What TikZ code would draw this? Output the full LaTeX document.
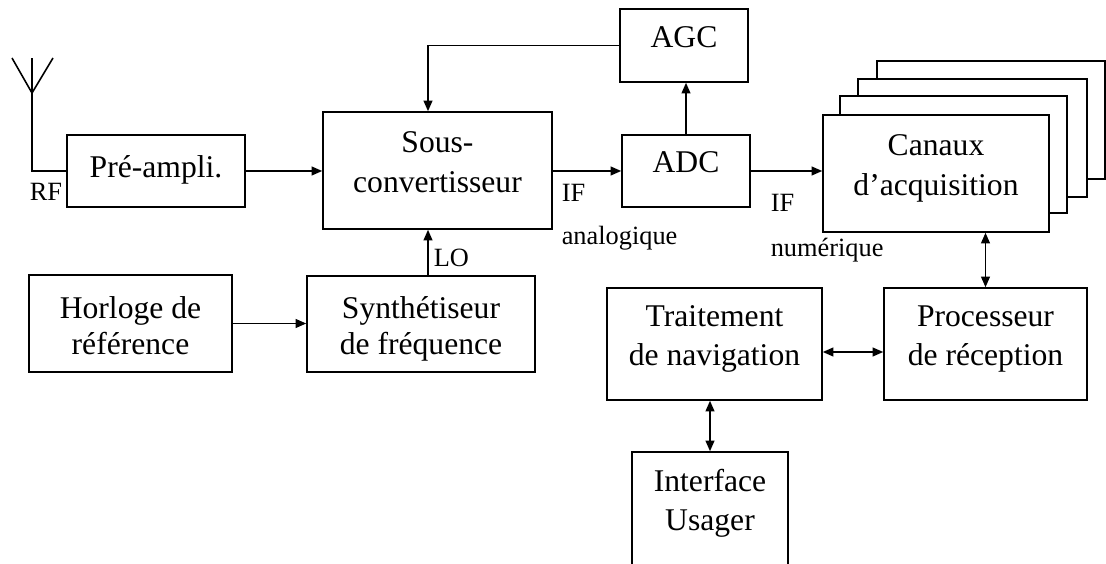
\documentclass[tikz,border=0pt]{standalone}
\usepackage{fontspec}
\setmainfont{Liberation Serif}
\usetikzlibrary{calc,arrows.meta}
\newcommand{\blk}[2][0.12cm]{\raisebox{#1}[\height][\depth]{\begin{tabular}{@{}c@{}}#2\end{tabular}}}

\begin{document}
\begin{tikzpicture}[x=0.02cm,y=-0.02cm,line width=0.9pt,
  bloc/.style={draw,fill=white,inner sep=0pt,font=\fontsize{18}{22.5}\selectfont},
  lab/.style={inner sep=0pt,font=\fontsize{15}{18}\selectfont},
  fl/.style={-{Triangle[length=6pt,width=5pt]}},
  dfl/.style={{Triangle[length=6pt,width=5pt]}-{Triangle[length=6pt,width=5pt]}}]
\useasboundingbox (0,0) rectangle (1106,564);
% chaine RF
\node[bloc,minimum width=3.56cm,minimum height=1.44cm](pre) at (156,171){\blk[0.03cm]{Pré-ampli.}};
\node[bloc,minimum width=4.58cm,minimum height=2.34cm](sous) at (437.5,170.5){\blk{Sous-\\convertisseur}};
\node[bloc,minimum width=2.56cm,minimum height=1.46cm](agc) at (684,45.5){\blk{AGC}};
\node[bloc,minimum width=2.56cm,minimum height=1.44cm](adc) at (686,171){\blk{ADC}};
% canaux empiles
\node[bloc,minimum width=4.56cm,minimum height=2.36cm](c4) at (991,120){};
\node[bloc,minimum width=4.58cm,minimum height=2.36cm](c3) at (972.5,138){};
\node[bloc,minimum width=4.54cm,minimum height=2.34cm](c2) at (953.5,154.5){};
\node[bloc,minimum width=4.52cm,minimum height=2.34cm](canaux) at (936,173.5){\blk{Canaux\\d’acquisition}};
% horloge
\node[bloc,minimum width=4.06cm,minimum height=1.94cm](horl) at (130.5,323.5){\blk[-0.1cm]{Horloge de\\[-2pt]référence}};
\node[bloc,minimum width=4.56cm,minimum height=1.92cm](synth) at (421,324){\blk[-0.1cm]{Synthétiseur\\[-2pt]de fréquence}};
% traitement
\node[bloc,minimum width=4.30cm,minimum height=2.24cm](trait) at (714.5,344){\blk{Traitement\\de navigation}};
\node[bloc,minimum width=4.06cm,minimum height=2.24cm](proc) at (985.5,344){\blk{Processeur\\de réception}};
\node[bloc,minimum width=3.12cm,minimum height=2.28cm](usag) at (710,509){\blk{Interface\\Usager}};
% antenne
\coordinate (ant) at (32,58);
\coordinate (fb) at (428,43);
\draw (pre.west) -| (ant);
\draw (12,58) -- (32,93) -- (53,58);
\node[lab](rf) at (46,192){RF};
% liaisons
\draw[fl] (pre.east) -- (pre.east -| sous.west);
\draw[fl] (agc.west) -| (fb |- sous.north);
\draw[fl] (sous.east |- adc.west) -- (adc.west);
\draw[fl] (adc.north) -- (adc.north |- agc.south);
\draw[fl] (adc.east) -- (adc.east -| canaux.west);
\draw[fl] (horl.east) -- (horl.east -| synth.west);
\draw[fl] (fb |- synth.north) -- (fb |- sous.south);
\draw[dfl] (proc.north) -- (proc.north |- canaux.south);
\draw[dfl] ([yshift=-0.16cm]trait.east) -- ([yshift=-0.16cm]trait.east -| proc.west);
\draw[dfl] (usag.north) -- (usag.north |- trait.south);
% etiquettes
\node[lab,anchor=west](lo) at (433,258){LO};
\node[lab,anchor=west](if1) at (561,193){IF};
\node[lab,anchor=west](ana) at (561,238){analogique};
\node[lab,anchor=west](if2) at (770,203){IF};
\node[lab,anchor=west](num) at (770,250){numérique};
\end{tikzpicture}
\end{document}
